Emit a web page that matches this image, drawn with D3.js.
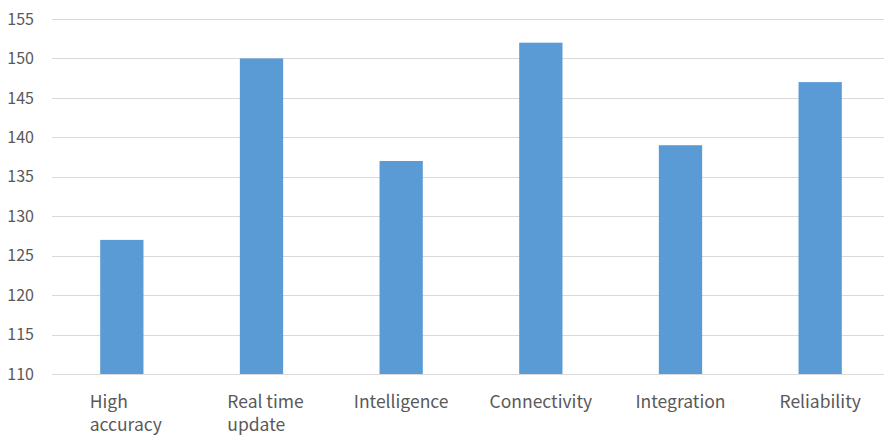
<!DOCTYPE html>
<html>
<head>
<meta charset="utf-8">
<script src="https://cdn.jsdelivr.net/npm/d3@7/dist/d3.min.js"></script>
<style>
  html, body { margin: 0; padding: 0; background: #fff; }
  svg text { font-family: "Noto Sans CJK KR", "Noto Sans", sans-serif; fill: #595959; }
</style>
</head>
<body>
<svg id="chart" width="884" height="435"></svg>
<script>
// Feature scores by category
const categories = [["High", "accuracy"], ["Real time", "update"], ["Intelligence"], ["Connectivity"], ["Integration"], ["Reliability"]];
const values = [127, 150, 137, 152, 139, 147];
const yTicks = [110, 115, 120, 125, 130, 135, 140, 145, 150, 155];

const svg = d3.select("#chart");
const plotLeft = 52, plotRight = 890, plotTop = 19, plotBottom = 374;

const x = d3.scaleBand()
  .domain(categories.map((d, i) => i))
  .range([plotLeft, plotRight])
  .paddingInner(0.69)
  .paddingOuter(0.345);

const y = d3.scaleLinear().domain([110, 155]).range([plotBottom, plotTop]);

// Horizontal gridlines
svg.append("g")
  .selectAll("line")
  .data(yTicks)
  .join("line")
  .attr("x1", plotLeft)
  .attr("x2", plotRight)
  .attr("y1", d => Math.round(y(d)) + 0.5)
  .attr("y2", d => Math.round(y(d)) + 0.5)
  .attr("stroke", "#d9d9d9")
  .attr("stroke-width", 1);

// Y axis labels
const yAxis = d3.axisLeft(y).tickValues(yTicks).tickSize(0).tickPadding(0);
const gy = svg.append("g")
  .attr("transform", "translate(34,0)")
  .call(yAxis);
gy.select(".domain").remove();
gy.selectAll("text")
  .style("font-size", "16px")
  .attr("fill", "#595959")
  .attr("font-family", null);

// Bars
svg.append("g")
  .selectAll("rect")
  .data(values)
  .join("rect")
  .attr("x", (d, i) => x(i))
  .attr("width", x.bandwidth())
  .attr("y", d => y(d))
  .attr("height", d => y(110) - y(d))
  .attr("fill", "#5b9bd5");

// Category labels (wrapped lines, left-aligned within a centred block)
const labels = svg.append("g");
categories.forEach((lines, i) => {
  const cx = x(i) + x.bandwidth() / 2;
  const t = labels.append("text")
    .style("font-size", "17.5px")
    .attr("y", 408);
  lines.forEach((ln, k) => {
    t.append("tspan").attr("dy", k === 0 ? 0 : 23).text(ln);
  });
  const widths = [];
  t.selectAll("tspan").each(function () { widths.push(this.getComputedTextLength()); });
  const w = d3.max(widths);
  const x0 = lines.length > 1 ? cx - w / 2 + 4 : cx - w / 2;
  t.selectAll("tspan").attr("x", x0);
});
</script>
</body>
</html>
